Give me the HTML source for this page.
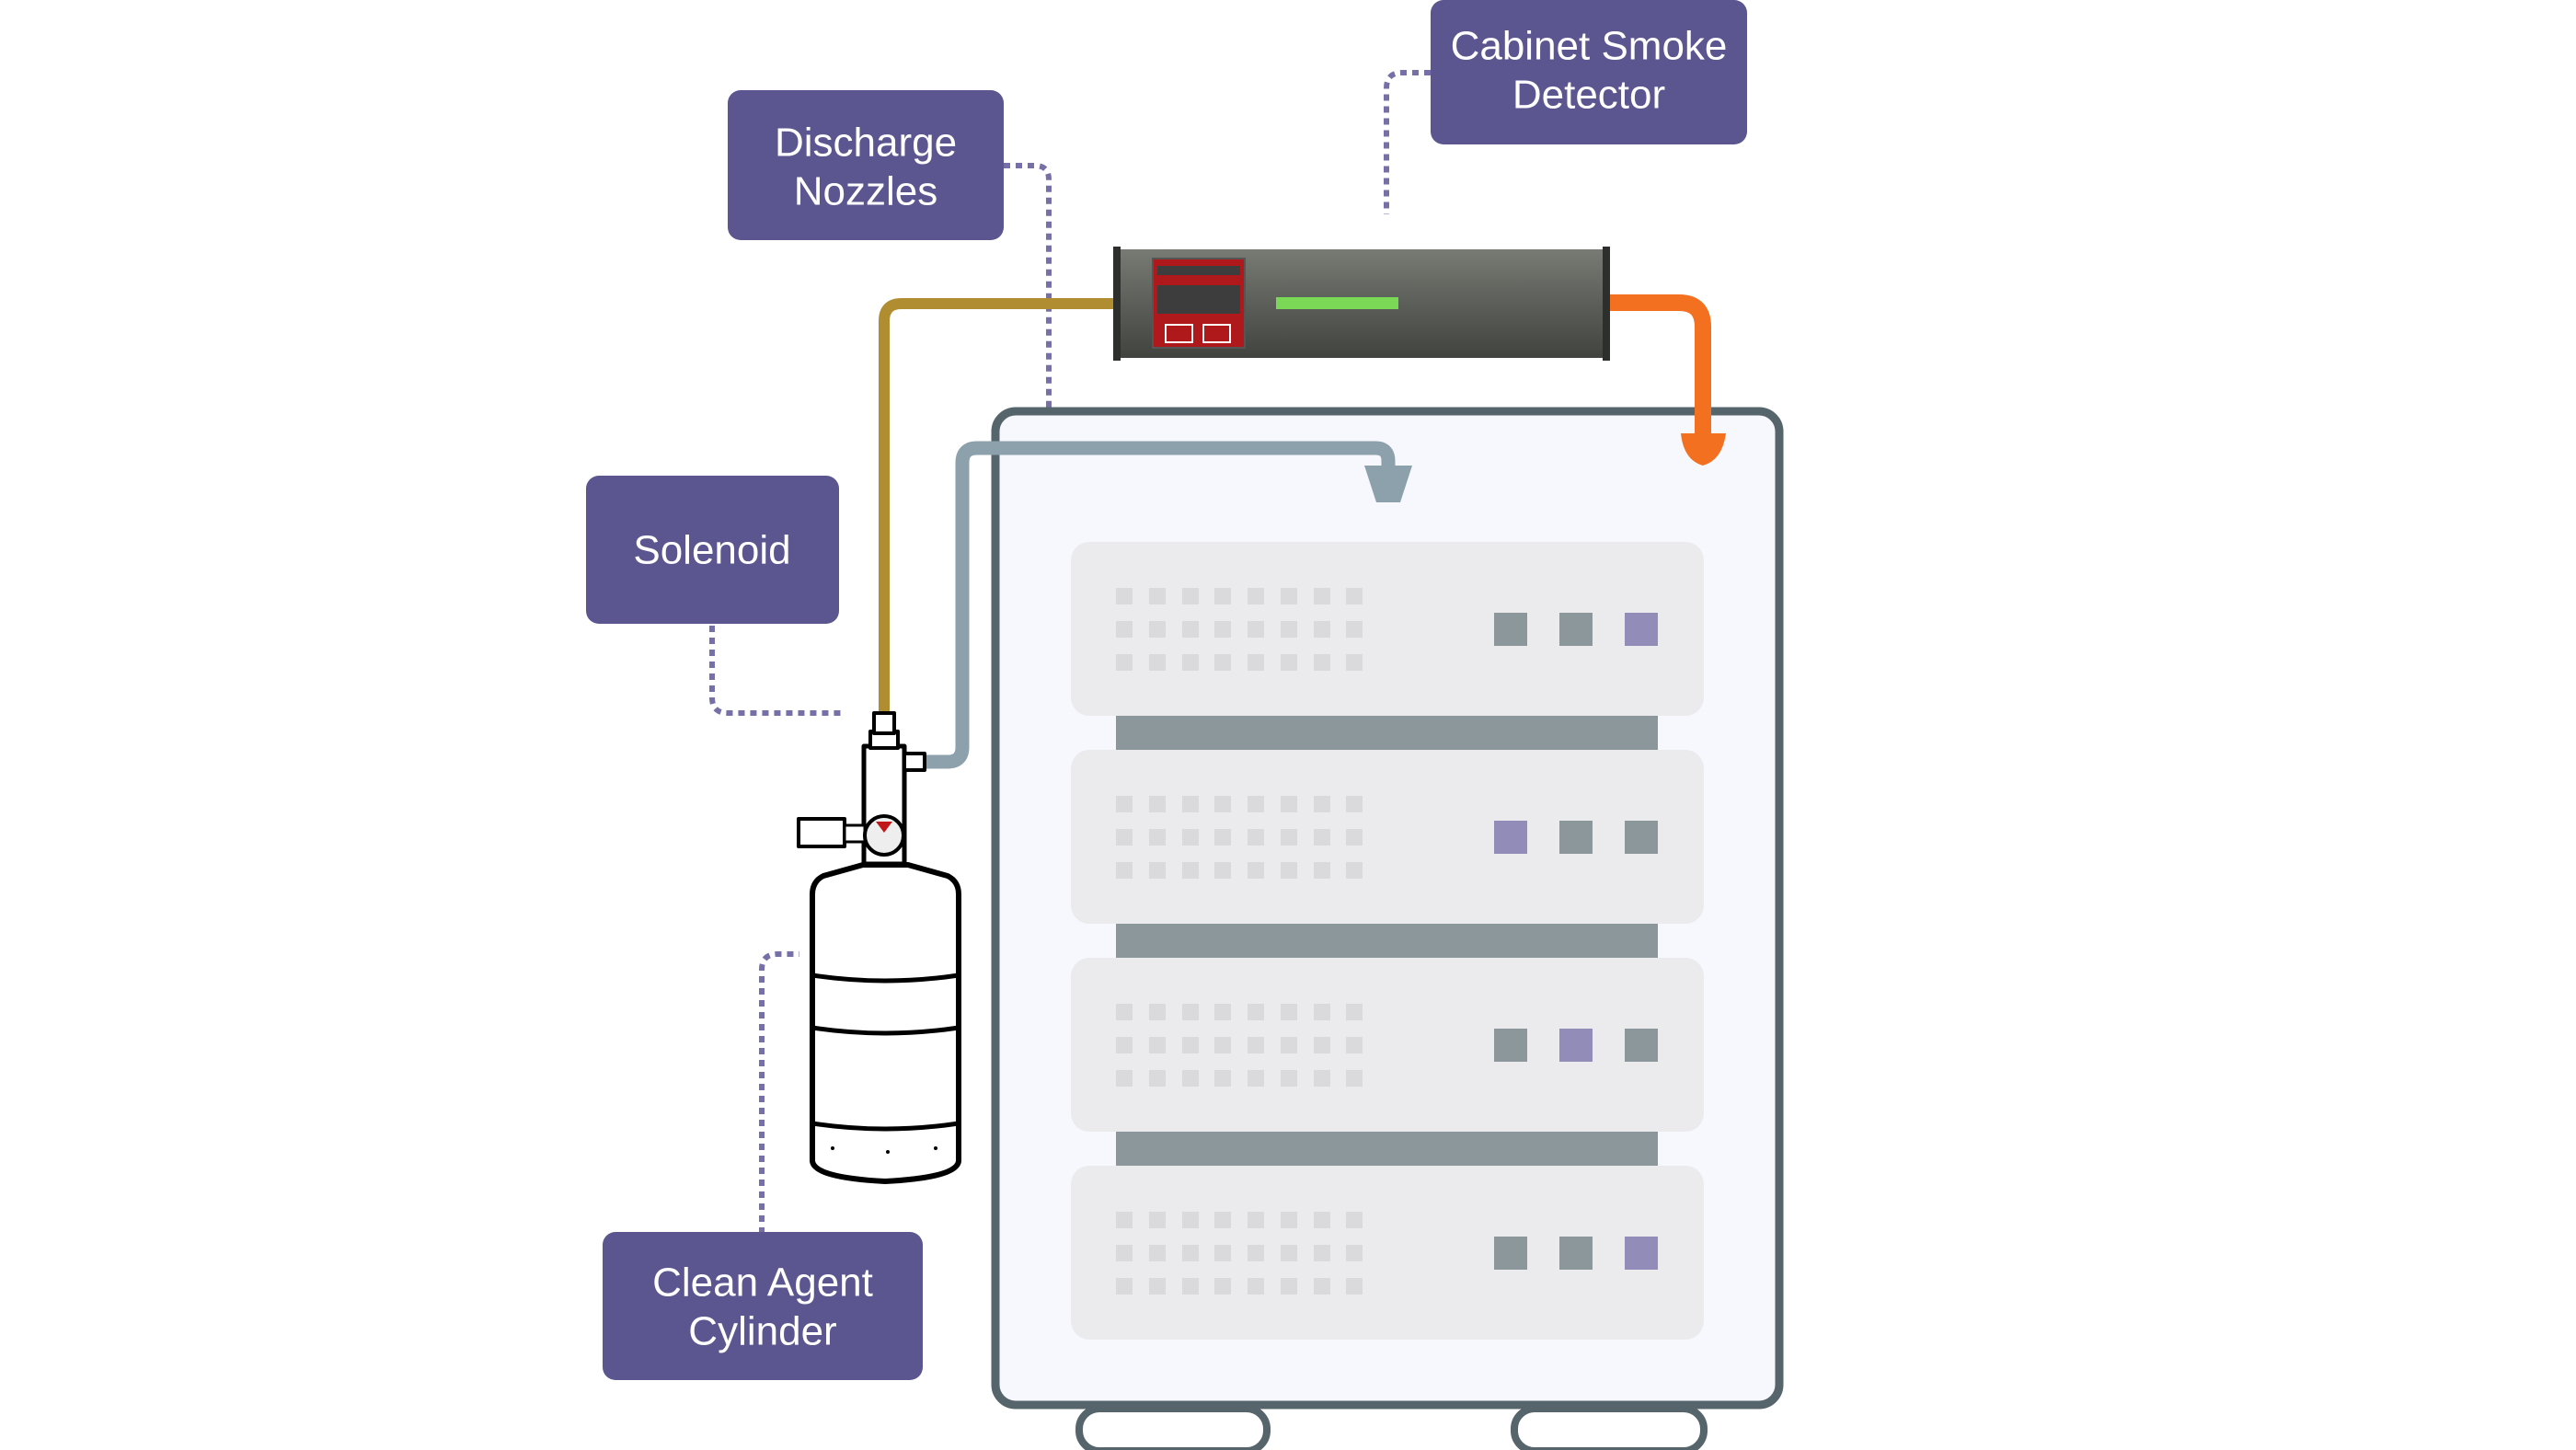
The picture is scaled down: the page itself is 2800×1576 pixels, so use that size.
<!DOCTYPE html>
<html><head><meta charset="utf-8"><style>
html,body{margin:0;padding:0;background:#fff;}
svg{display:block;}
text{font-family:"Liberation Sans",sans-serif;fill:#fff;font-size:44px;text-anchor:middle;dominant-baseline:central;}
</style></head><body>
<svg width="2800" height="1576" viewBox="0 0 2800 1576" xmlns="http://www.w3.org/2000/svg">
<defs>
<linearGradient id="tube" x1="0" y1="0" x2="0" y2="1">
<stop offset="0" stop-color="#777b73"/><stop offset="1" stop-color="#41433f"/>
</linearGradient>
</defs>
<g fill="none" stroke="#7570a8" stroke-width="6" stroke-dasharray="7 6">
<path d="M1555 79 H1524 Q1507 79 1507 96 V233"/>
<path d="M1091 180 H1125 Q1140 180 1140 195 V483"/>
<path d="M774 680 V758 Q774 775 791 775 H919"/>
<path d="M828 1341 V1054 Q828 1037 845 1037 H869"/>
</g>
<rect x="1082" y="447" width="852" height="1080" rx="22" fill="#f7f8fd" stroke="#56656b" stroke-width="9"/>
<rect x="1173" y="1531" width="204" height="46" rx="22" fill="none" stroke="#56656b" stroke-width="8"/>
<rect x="1646" y="1531" width="206" height="46" rx="22" fill="none" stroke="#56656b" stroke-width="8"/>
<rect x="1213" y="778" width="589" height="37" fill="#8c979c"/>
<rect x="1213" y="1004" width="589" height="37" fill="#8c979c"/>
<rect x="1213" y="1230" width="589" height="37" fill="#8c979c"/>
<rect x="1164" y="589" width="688" height="189" rx="20" fill="#ebebee"/>
<rect x="1164" y="815" width="688" height="189" rx="20" fill="#ebebee"/>
<rect x="1164" y="1041" width="688" height="189" rx="20" fill="#ebebee"/>
<rect x="1164" y="1267" width="688" height="189" rx="20" fill="#ebebee"/>
<g fill="#dadadd">
<g id="dots">
<rect x="1213" y="639" width="18" height="18"/><rect x="1249" y="639" width="18" height="18"/><rect x="1285" y="639" width="18" height="18"/><rect x="1320" y="639" width="18" height="18"/><rect x="1356" y="639" width="18" height="18"/><rect x="1392" y="639" width="18" height="18"/><rect x="1428" y="639" width="18" height="18"/><rect x="1463" y="639" width="18" height="18"/>
<rect x="1213" y="675" width="18" height="18"/><rect x="1249" y="675" width="18" height="18"/><rect x="1285" y="675" width="18" height="18"/><rect x="1320" y="675" width="18" height="18"/><rect x="1356" y="675" width="18" height="18"/><rect x="1392" y="675" width="18" height="18"/><rect x="1428" y="675" width="18" height="18"/><rect x="1463" y="675" width="18" height="18"/>
<rect x="1213" y="711" width="18" height="18"/><rect x="1249" y="711" width="18" height="18"/><rect x="1285" y="711" width="18" height="18"/><rect x="1320" y="711" width="18" height="18"/><rect x="1356" y="711" width="18" height="18"/><rect x="1392" y="711" width="18" height="18"/><rect x="1428" y="711" width="18" height="18"/><rect x="1463" y="711" width="18" height="18"/>
</g>
<use href="#dots" y="226"/><use href="#dots" y="452"/><use href="#dots" y="678"/>
</g>
<g>
<rect x="1624" y="666" width="36" height="36" fill="#8c979c"/><rect x="1695" y="666" width="36" height="36" fill="#8c979c"/><rect x="1766" y="666" width="36" height="36" fill="#918cb8"/>
<rect x="1624" y="892" width="36" height="36" fill="#918cb8"/><rect x="1695" y="892" width="36" height="36" fill="#8c979c"/><rect x="1766" y="892" width="36" height="36" fill="#8c979c"/>
<rect x="1624" y="1118" width="36" height="36" fill="#8c979c"/><rect x="1695" y="1118" width="36" height="36" fill="#918cb8"/><rect x="1766" y="1118" width="36" height="36" fill="#8c979c"/>
<rect x="1624" y="1344" width="36" height="36" fill="#8c979c"/><rect x="1695" y="1344" width="36" height="36" fill="#8c979c"/><rect x="1766" y="1344" width="36" height="36" fill="#918cb8"/>
</g>
<path d="M1220 330 H980 Q961 330 961 349 V785" fill="none" stroke="#b08d30" stroke-width="12"/>
<path d="M1005 828 H1030 Q1046 828 1046 812 V503 Q1046 487 1062 487 H1495 Q1509 487 1509 501 V512" fill="none" stroke="#8ca1ab" stroke-width="15"/>
<polygon points="1483,506 1535,506 1522,546 1496,546" fill="#8ca1ab"/>
<path d="M1746 329 H1825 Q1851 329 1851 355 V474" fill="none" stroke="#f37021" stroke-width="18"/>
<path d="M1827 471 H1876 Q1872 500 1851 506 Q1830 500 1827 471 Z" fill="#f37021"/>
<rect x="1217" y="271" width="530" height="118" fill="url(#tube)"/>
<rect x="1210" y="268" width="8" height="124" fill="#2d2f2c"/>
<rect x="1742" y="268" width="8" height="124" fill="#2d2f2c"/>
<rect x="1253" y="281" width="100" height="97" fill="#b0191c" stroke="#555" stroke-width="2"/>
<rect x="1258" y="289" width="90" height="10" fill="#3d3d3d"/>
<rect x="1258" y="310" width="90" height="31" fill="#3d3d3d"/>
<rect x="1267" y="353" width="29" height="19" fill="none" stroke="#fff" stroke-width="2"/>
<rect x="1308" y="353" width="29" height="19" fill="none" stroke="#fff" stroke-width="2"/>
<rect x="1387" y="323" width="133" height="13" fill="#7bd856"/>
<g fill="#fff" stroke="#000" stroke-width="6" stroke-linejoin="round">
<path d="M938 940 L895 952 Q883 958 883 972 V1262 Q885 1280 962 1284 Q1040 1280 1042 1262 V972 Q1042 958 1030 952 L987 940 Z"/>
<path d="M883 1060 Q962 1072 1042 1060 M883 1117 Q962 1129 1042 1117 M883 1221 Q962 1233 1042 1221" fill="none" stroke-width="5"/>
<rect x="939" y="811" width="44" height="128" stroke-width="5"/>
<rect x="946" y="795" width="30" height="18" stroke-width="4"/>
<rect x="950" y="775" width="22" height="22" stroke-width="4"/>
<rect x="983" y="819" width="22" height="18" stroke-width="4"/>
<rect x="868" y="890" width="50" height="30" stroke-width="4"/>
<rect x="918" y="897" width="22" height="18" stroke-width="3"/>
<circle cx="961" cy="908" r="21" stroke-width="4" fill="#eee"/>
</g>
<path d="M952 893 L961 905 L970 893 Z" fill="#c01818"/>
<circle cx="905" cy="1248" r="2" fill="#000"/><circle cx="965" cy="1252" r="2" fill="#000"/><circle cx="1017" cy="1248" r="2" fill="#000"/>
<g fill="#5b5690">
<rect x="1555" y="0" width="344" height="157" rx="14"/>
<rect x="791" y="98" width="300" height="163" rx="14"/>
<rect x="637" y="517" width="275" height="161" rx="14"/>
<rect x="655" y="1339" width="348" height="161" rx="14"/>
</g>
<text x="1727" y="50">Cabinet Smoke</text>
<text x="1727" y="103">Detector</text>
<text x="941" y="155">Discharge</text>
<text x="941" y="208">Nozzles</text>
<text x="774" y="598">Solenoid</text>
<text x="829" y="1394">Clean Agent</text>
<text x="829" y="1447">Cylinder</text>
</svg>
</body></html>
